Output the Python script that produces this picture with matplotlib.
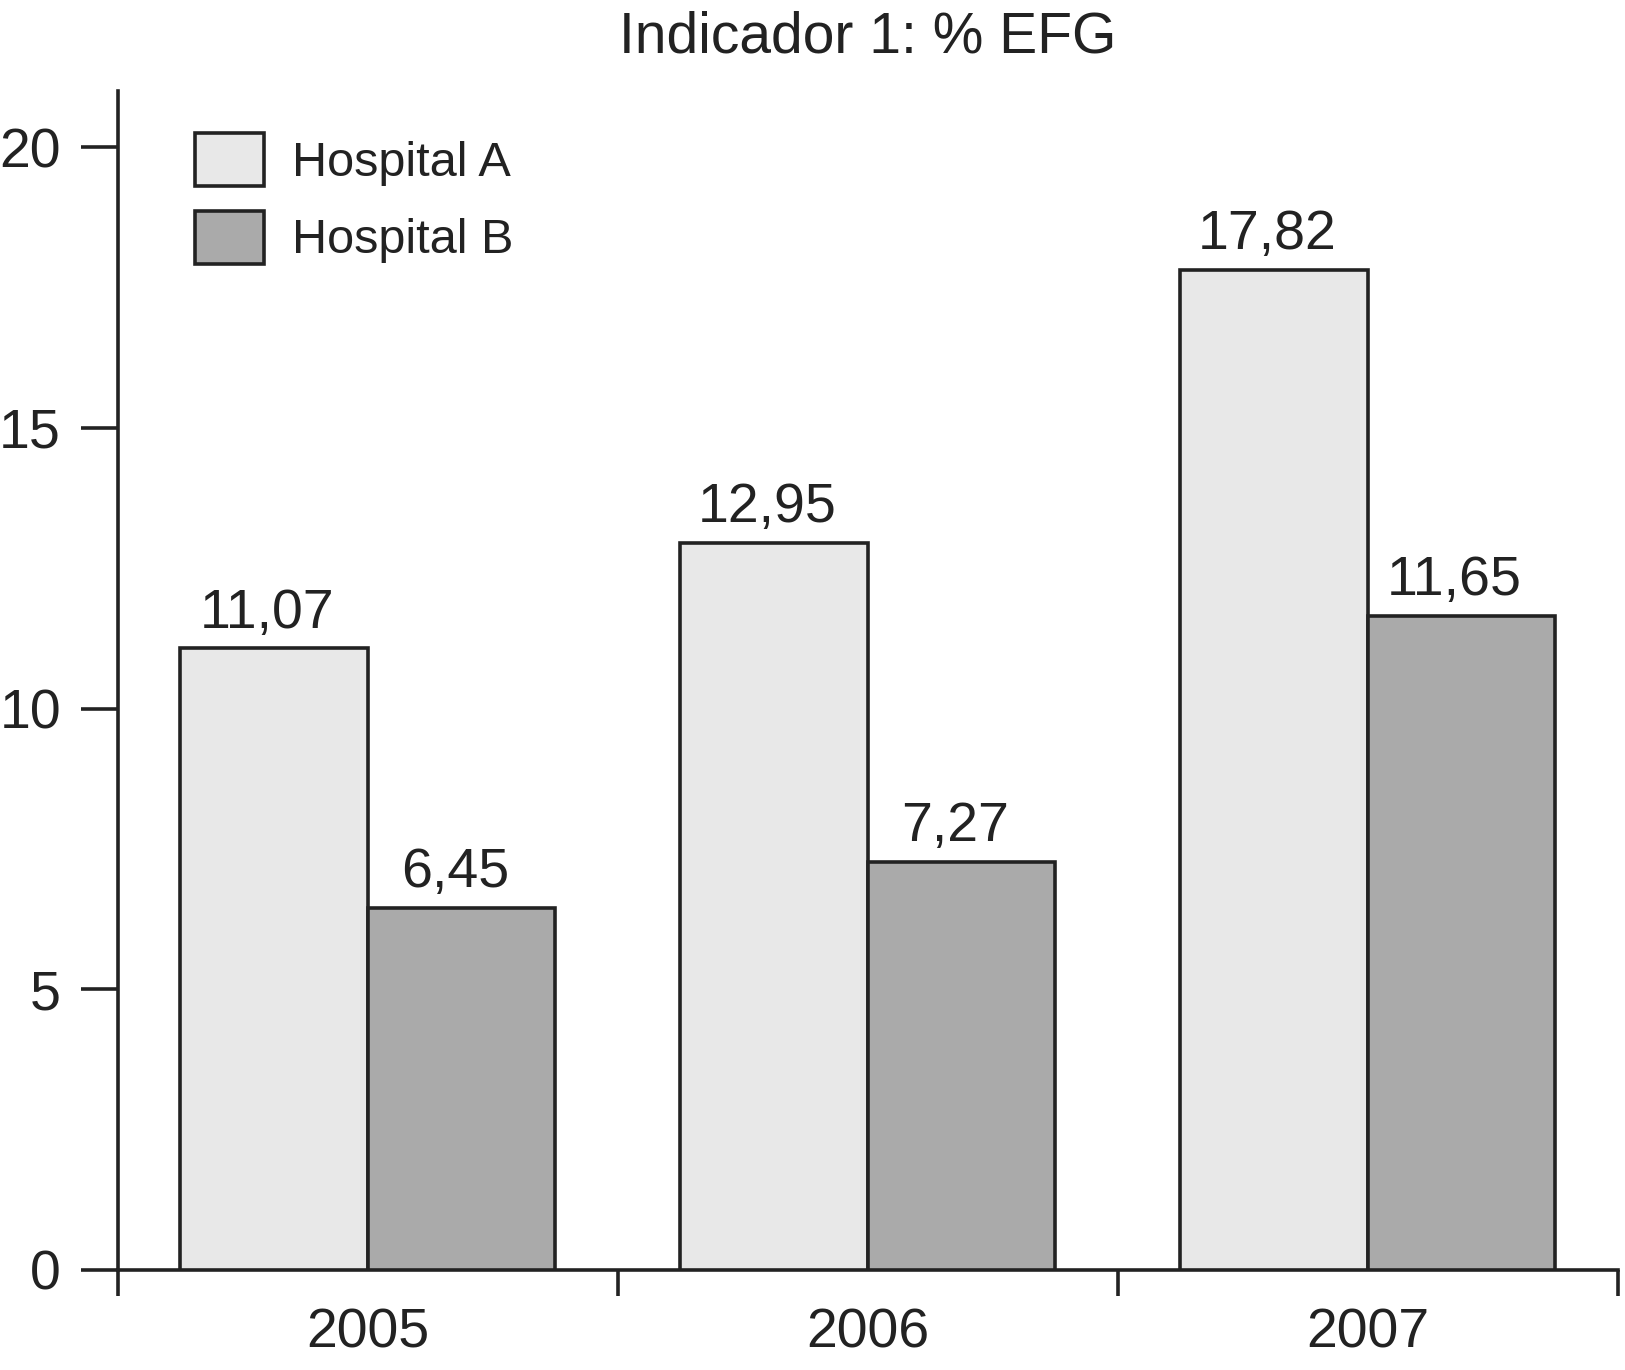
import numpy as np
import matplotlib
matplotlib.use("Agg")
import matplotlib.pyplot as plt

plt.rcParams['font.family'] = ['Liberation Sans', 'DejaVu Sans']

years = ['2005', '2006', '2007']
hosp_a = [11.07, 12.95, 17.82]
hosp_b = [6.45, 7.27, 11.65]
labels_a = ['11,07', '12,95', '17,82']
labels_b = ['6,45', '7,27', '11,65']
series_names = ['Hospital A', 'Hospital B']
title = 'Indicador 1: % EFG'

ink = '#222222'
lw = 2.6
fig = plt.figure(figsize=(16.25, 13.7), dpi=100)
ax = fig.add_axes([0.0726, 0.073, 0.923, 0.8606])

x = np.arange(len(years))
w = 0.375
bars_a = ax.bar(x - w/2, hosp_a, w, color='#e8e8e8', edgecolor=ink, linewidth=lw, label=series_names[0], zorder=3)
bars_b = ax.bar(x + w/2, hosp_b, w, color='#aaaaaa', edgecolor=ink, linewidth=lw, label=series_names[1], zorder=3)

for bars, labs in [(bars_a, labels_a), (bars_b, labels_b)]:
    for b, lab in zip(bars, labs):
        ax.annotate(lab, (b.get_x() + b.get_width()/2, b.get_height()),
                    xytext=(-5, 15), textcoords='offset points',
                    ha='center', va='baseline', fontsize=40, color=ink)

ax.set_xlim(-0.5, 2.5)
ax.set_ylim(0, 21)
ax.set_yticks([0, 5, 10, 15, 20])
ax.set_xticks(x)
ax.set_xticklabels(years)
ax.set_xticks([-0.5, 0.5, 1.5, 2.5], minor=True)
ax.tick_params(axis='x', which='major', length=0, pad=27, labelsize=40, labelcolor=ink)
ax.tick_params(axis='x', which='minor', length=18.5, width=lw, color=ink, direction='out')
ax.tick_params(axis='y', length=27, width=lw, color=ink, pad=14, labelsize=40, labelcolor=ink)

for s in ['top', 'right']:
    ax.spines[s].set_visible(False)
for s in ['left', 'bottom']:
    ax.spines[s].set_linewidth(lw)
    ax.spines[s].set_color(ink)

ax.set_title(title, fontsize=41, color=ink, pad=28)

leg = ax.legend(loc='upper left', bbox_to_anchor=(0.0513, 0.964), frameon=False,
                fontsize=35, handlelength=1.42, handleheight=1.3, handletextpad=0.57,
                labelspacing=0.5, borderpad=0, borderaxespad=0)
for t in leg.get_texts():
    t.set_color(ink)
for p in leg.get_patches():
    p.set_linewidth(lw)

fig.savefig('out.png', dpi=100)
